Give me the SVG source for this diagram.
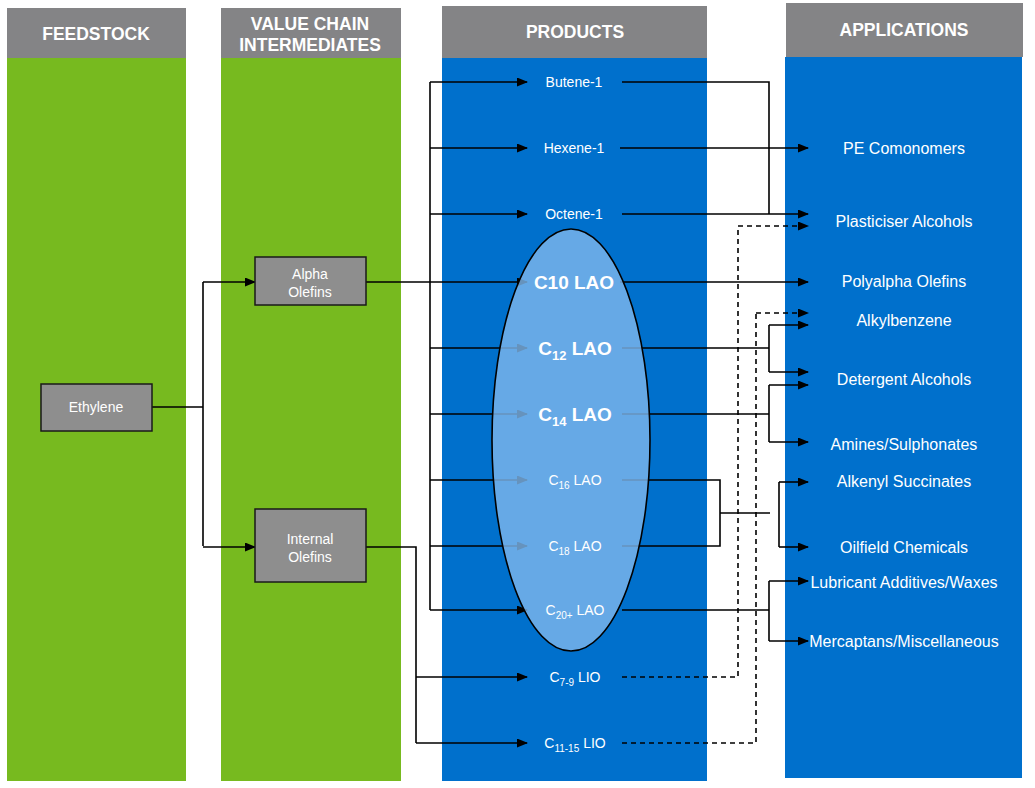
<svg xmlns="http://www.w3.org/2000/svg" width="1035" height="788" viewBox="0 0 1035 788">
<defs>
<marker id="arr" markerUnits="userSpaceOnUse" markerWidth="11" markerHeight="9" refX="10" refY="4.5" orient="auto">
<path d="M0,0 L11,4.5 L0,9 z" fill="#000"/>
</marker>
<style>
.hdr{fill:#848486}
.grn{fill:#77ba1f}
.blu{fill:#0070cc}
.htxt{font-family:"Liberation Sans",Arial,sans-serif;font-weight:bold;font-size:17.5px;fill:#fff;text-anchor:middle}
.box{fill:#8e8e8e;stroke:#1a1a1a;stroke-width:1.5}
.btxt{font-family:"Liberation Sans",Arial,sans-serif;font-size:14px;fill:#fff;text-anchor:middle}
.ptxt{font-family:"Liberation Sans",Arial,sans-serif;font-size:14px;fill:#fff;text-anchor:middle}
.pbig{font-family:"Liberation Sans",Arial,sans-serif;font-size:19px;font-weight:bold;fill:#fff;text-anchor:middle}
.atxt{font-family:"Liberation Sans",Arial,sans-serif;font-size:16px;fill:#fff;text-anchor:middle}
.ln{fill:none;stroke:#000;stroke-width:1.6}
.ar{fill:none;stroke:#000;stroke-width:1.6;marker-end:url(#arr)}
.ds{fill:none;stroke:#000;stroke-width:1.6;stroke-dasharray:5,4}
.dsa{fill:none;stroke:#000;stroke-width:1.6;stroke-dasharray:5,4;marker-end:url(#arr)}
</style>
</defs>
<rect width="1035" height="788" fill="#fff"/>
<g id="columns">
<rect class="hdr" x="7" y="8" width="179" height="50"/>
<rect class="grn" x="7" y="58" width="179" height="723"/>
<rect class="hdr" x="221" y="8" width="180" height="50"/>
<rect class="grn" x="221" y="58" width="180" height="723"/>
<rect class="hdr" x="442" y="6" width="265" height="52"/>
<rect class="blu" x="442" y="58" width="265" height="723"/>
<rect class="hdr" x="786" y="3" width="237" height="54"/>
<rect class="blu" x="785" y="57" width="237" height="721"/>
<text class="htxt" x="96" y="40">FEEDSTOCK</text>
<text class="htxt" x="310" y="30">VALUE CHAIN</text>
<text class="htxt" x="310" y="51">INTERMEDIATES</text>
<text class="htxt" x="575" y="38">PRODUCTS</text>
<text class="htxt" x="904" y="36">APPLICATIONS</text>
</g>
<g id="connectors">
<path class="ln" d="M152,407 H203 M203,282 V546"/>
<path class="ar" d="M203,282 H255"/>
<path class="ar" d="M203,547 H255"/>
<path class="ln" d="M366,282 H430 M430,82 V610"/>
<path class="ar" d="M430,82 H527"/>
<path class="ar" d="M430,148 H527"/>
<path class="ar" d="M430,214 H527"/>
<path class="ar" d="M430,282 H527"/>
<path class="ar" d="M430,348 H527"/>
<path class="ar" d="M430,414 H527"/>
<path class="ar" d="M430,480 H527"/>
<path class="ar" d="M430,546 H527"/>
<path class="ar" d="M430,610 H527"/>
<path class="ln" d="M366,547 H416 V743"/>
<path class="ar" d="M416,677 H527"/>
<path class="ar" d="M416,743 H527"/>
<path class="ln" d="M622,82 H769 V214"/>
<path class="ar" d="M620,148 H808"/>
<path class="ar" d="M622,214 H808"/>
<path class="ar" d="M620,282 H808"/>
<path class="ln" d="M622,348 H769 M769,325 V372"/>
<path class="ar" d="M769,325 H808"/>
<path class="ar" d="M769,372 H808"/>
<path class="ln" d="M622,414 H769 M769,385 V442"/>
<path class="ar" d="M769,385 H808"/>
<path class="ar" d="M769,442 H808"/>
<path class="ln" d="M622,480 H720 V546 H622 M720,513 H770 M779,482 V547"/>
<path class="ar" d="M779,482 H808"/>
<path class="ar" d="M779,547 H808"/>
<path class="ln" d="M622,610 H769 M769,581 V641"/>
<path class="ar" d="M769,581 H808"/>
<path class="ar" d="M769,641 H808"/>
<path class="ds" d="M622,677 H738 V226"/>
<path class="dsa" d="M738,226 H808"/>
<path class="ds" d="M622,743 H756 V313"/>
<path class="dsa" d="M756,313 H808"/>
</g>
<g id="lao-ellipse">
<ellipse cx="571" cy="440" rx="79" ry="211" fill="#7fb8ec" fill-opacity="0.8" stroke="#000" stroke-width="1.6"/>
</g>
<g id="feedstock-nodes">
<g id="ethylene"><rect class="box" x="41" y="384" width="111" height="47"/><text class="btxt" x="96" y="412">Ethylene</text></g>
</g>
<g id="intermediates">
<g id="alpha-olefins"><rect class="box" x="255" y="257" width="111" height="48"/><text class="btxt" x="310" y="279">Alpha</text><text class="btxt" x="310" y="297">Olefins</text></g>
<g id="internal-olefins"><rect class="box" x="255" y="509" width="111" height="73"/><text class="btxt" x="310" y="544">Internal</text><text class="btxt" x="310" y="562">Olefins</text></g>
</g>
<g id="products">
<g id="butene"><text class="ptxt" x="574" y="87">Butene-1</text></g>
<g id="hexene"><text class="ptxt" x="574" y="153">Hexene-1</text></g>
<g id="octene"><text class="ptxt" x="574" y="219">Octene-1</text></g>
<g id="c10"><text class="pbig" x="574" y="289">C10 LAO</text></g>
<g id="c12"><text class="pbig" x="575" y="355">C<tspan font-size="13" dy="5">12</tspan><tspan dy="-5"> LAO</tspan></text></g>
<g id="c14"><text class="pbig" x="575" y="421">C<tspan font-size="13" dy="5">14</tspan><tspan dy="-5"> LAO</tspan></text></g>
<g id="c16"><text class="ptxt" x="575" y="485">C<tspan font-size="10" dy="4">16</tspan><tspan dy="-4"> LAO</tspan></text></g>
<g id="c18"><text class="ptxt" x="575" y="551">C<tspan font-size="10" dy="4">18</tspan><tspan dy="-4"> LAO</tspan></text></g>
<g id="c20"><text class="ptxt" x="575" y="615">C<tspan font-size="10" dy="4">20+</tspan><tspan dy="-4"> LAO</tspan></text></g>
<g id="c7-9"><text class="ptxt" x="575" y="682">C<tspan font-size="10" dy="4">7-9</tspan><tspan dy="-4"> LIO</tspan></text></g>
<g id="c11-15"><text class="ptxt" x="575" y="748">C<tspan font-size="10" dy="4">11-15</tspan><tspan dy="-4"> LIO</tspan></text></g>
</g>
<g id="applications">
<g id="pe-comonomers"><text class="atxt" x="904" y="154">PE Comonomers</text></g>
<g id="plasticiser-alcohols"><text class="atxt" x="904" y="227">Plasticiser Alcohols</text></g>
<g id="polyalpha-olefins"><text class="atxt" x="904" y="287">Polyalpha Olefins</text></g>
<g id="alkylbenzene"><text class="atxt" x="904" y="326">Alkylbenzene</text></g>
<g id="detergent-alcohols"><text class="atxt" x="904" y="385">Detergent Alcohols</text></g>
<g id="amines"><text class="atxt" x="904" y="450">Amines/Sulphonates</text></g>
<g id="alkenyl"><text class="atxt" x="904" y="487">Alkenyl Succinates</text></g>
<g id="oilfield"><text class="atxt" x="904" y="553">Oilfield Chemicals</text></g>
<g id="lubricant"><text class="atxt" x="904" y="588">Lubricant Additives/Waxes</text></g>
<g id="mercaptans"><text class="atxt" x="904" y="647">Mercaptans/Miscellaneous</text></g>
</g>
</svg>
